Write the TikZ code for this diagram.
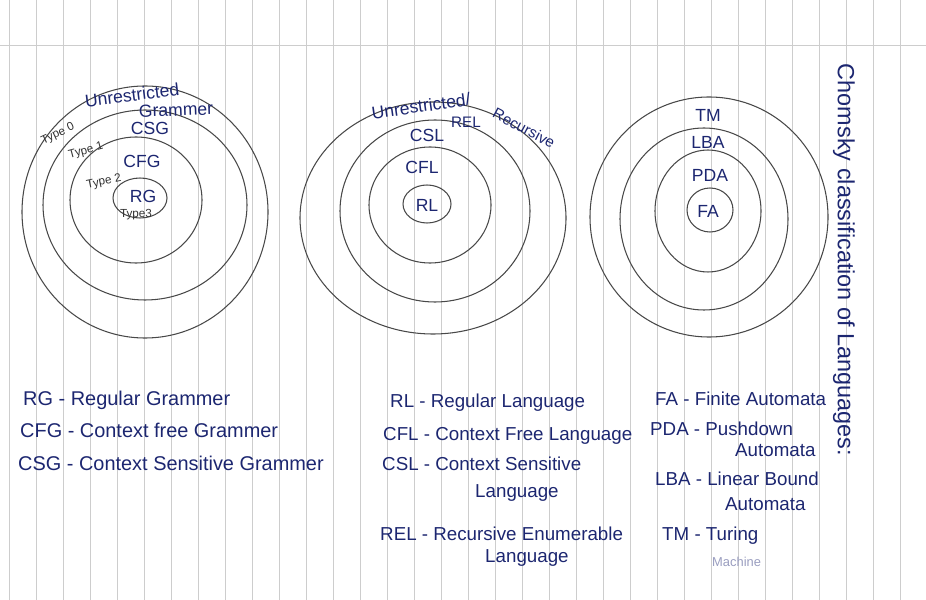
\documentclass[tikz,border=0pt]{standalone}
\usepackage{fontspec}
\setmainfont{Liberation Sans}
\usepackage{xcolor}
\usetikzlibrary{positioning}
\definecolor{ink}{RGB}{28,38,112}
\definecolor{pencil}{RGB}{72,72,72}
\definecolor{paperline}{RGB}{205,205,205}

\begin{document}
\begin{tikzpicture}[x=0.03cm,y=-0.03cm,
    ring/.style={draw=pencil,line width=0.9pt},
    lbl/.style={text=ink,font=\fontsize{15}{17}\selectfont,inner sep=0pt},
    tag/.style={text=black!80,font=\fontsize{10}{12}\selectfont,inner sep=0pt},
    note/.style={text=ink,font=\fontsize{16}{18}\selectfont,anchor=base west,inner sep=0pt}]
\useasboundingbox (0,0) rectangle (926,600);
% ruled paper
\foreach \x in {9,36,...,900}
    \draw[paperline,line width=0.5pt] (\x,0) -- (\x,600);
\draw[paperline,line width=0.5pt] (0,45) -- (926,45);

% grammars
\draw[ring] (145,212) ellipse [x radius=123, y radius=126];
\draw[ring] (145,205) ellipse [x radius=102, y radius=95];
\draw[ring] (136,200) ellipse [x radius=66, y radius=63];
\draw[ring] (140,198) ellipse [x radius=27, y radius=20];
\node[lbl,rotate=7] (ungram) at (132,95) {Unrestricted};
\node[lbl,rotate=2] (gram) at (176,110) {Grammer};
\node[tag,rotate=25] (type0) at (58,134) {Type 0};
\node[lbl] (csg) at (150,128) {CSG};
\node[tag,rotate=15] (type1) at (86,151) {Type 1};
\node[lbl] (cfg) at (142,161) {CFG};
\node[tag,rotate=12] (type2) at (104,182) {Type 2};
\node[lbl] (rg) at (143,196) {RG};
\node[tag] (type3) at (136,215) {Type3};

% languages
\draw[ring] (433,218) ellipse [x radius=133, y radius=116];
\draw[ring] (435,211) ellipse [x radius=95, y radius=91];
\draw[ring] (430,205) ellipse [x radius=61, y radius=58];
\draw[ring] (427,204) ellipse [x radius=24, y radius=19];
\node[lbl,rotate=8] (unlang) at (421,106) {Unrestricted/};
\node[lbl,font=\fontsize{13}{15}\selectfont] (rel) at (466,122) {REL};
\node[lbl,font=\fontsize{13}{15}\selectfont,rotate=-28] (recur) at (524,128) {Recursive};
\node[lbl] (csl) at (427,135) {CSL};
\node[lbl] (cfl) at (422,167) {CFL};
\node[lbl] (rl) at (427,205) {RL};

% automata
\draw[ring] (709,217) ellipse [x radius=119, y radius=120];
\draw[ring] (704,219) ellipse [x radius=84, y radius=91];
\draw[ring] (708,211) ellipse [x radius=53, y radius=61];
\draw[ring] (710,210) ellipse [x radius=23, y radius=22];
\node[lbl] (tm) at (708,115) {TM};
\node[lbl] (lba) at (708,142) {LBA};
\node[lbl] (pda) at (710,175) {PDA};
\node[lbl] (fa) at (708,211) {FA};

% title
\node[lbl,font=\fontsize{20}{22}\selectfont,rotate=-90] (title) at (844,260)
    {Chomsky classification of Languages:};

% abbreviations
\node[note,font=\fontsize{17}{19}\selectfont] (rgtxt) at (23,405) {RG - Regular Grammer};
\node[note,font=\fontsize{17}{19}\selectfont] (cfgtxt) at (20,437) {CFG - Context free Grammer};
\node[note,font=\fontsize{17}{19}\selectfont] (csgtxt) at (18,470) {CSG - Context Sensitive Grammer};

\node[note] (rltxt) at (390,407) {RL - Regular Language};
\node[note] (cfltxt) at (383,440) {CFL - Context Free Language};
\node[note] (csltxt) at (382,470) {CSL - Context Sensitive};
\node[note] (csltxtb) at (475,497) {Language};
\node[note] (reltxt) at (380,540) {REL - Recursive Enumerable};
\node[note] (reltxtb) at (485,562) {Language};

\node[note] (fatxt) at (655,405) {FA - Finite Automata};
\node[note] (pdatxt) at (650,435) {PDA - Pushdown};
\node[note] (pdatxtb) at (735,456) {Automata};
\node[note] (lbatxt) at (655,485) {LBA - Linear Bound};
\node[note] (lbatxtb) at (725,510) {Automata};
\node[note] (tmtxt) at (662,540) {TM - Turing};
\node[note,text=ink!45,font=\fontsize{11}{13}\selectfont] (tmtxtb) at (712,566) {Machine};
\end{tikzpicture}
\end{document}
